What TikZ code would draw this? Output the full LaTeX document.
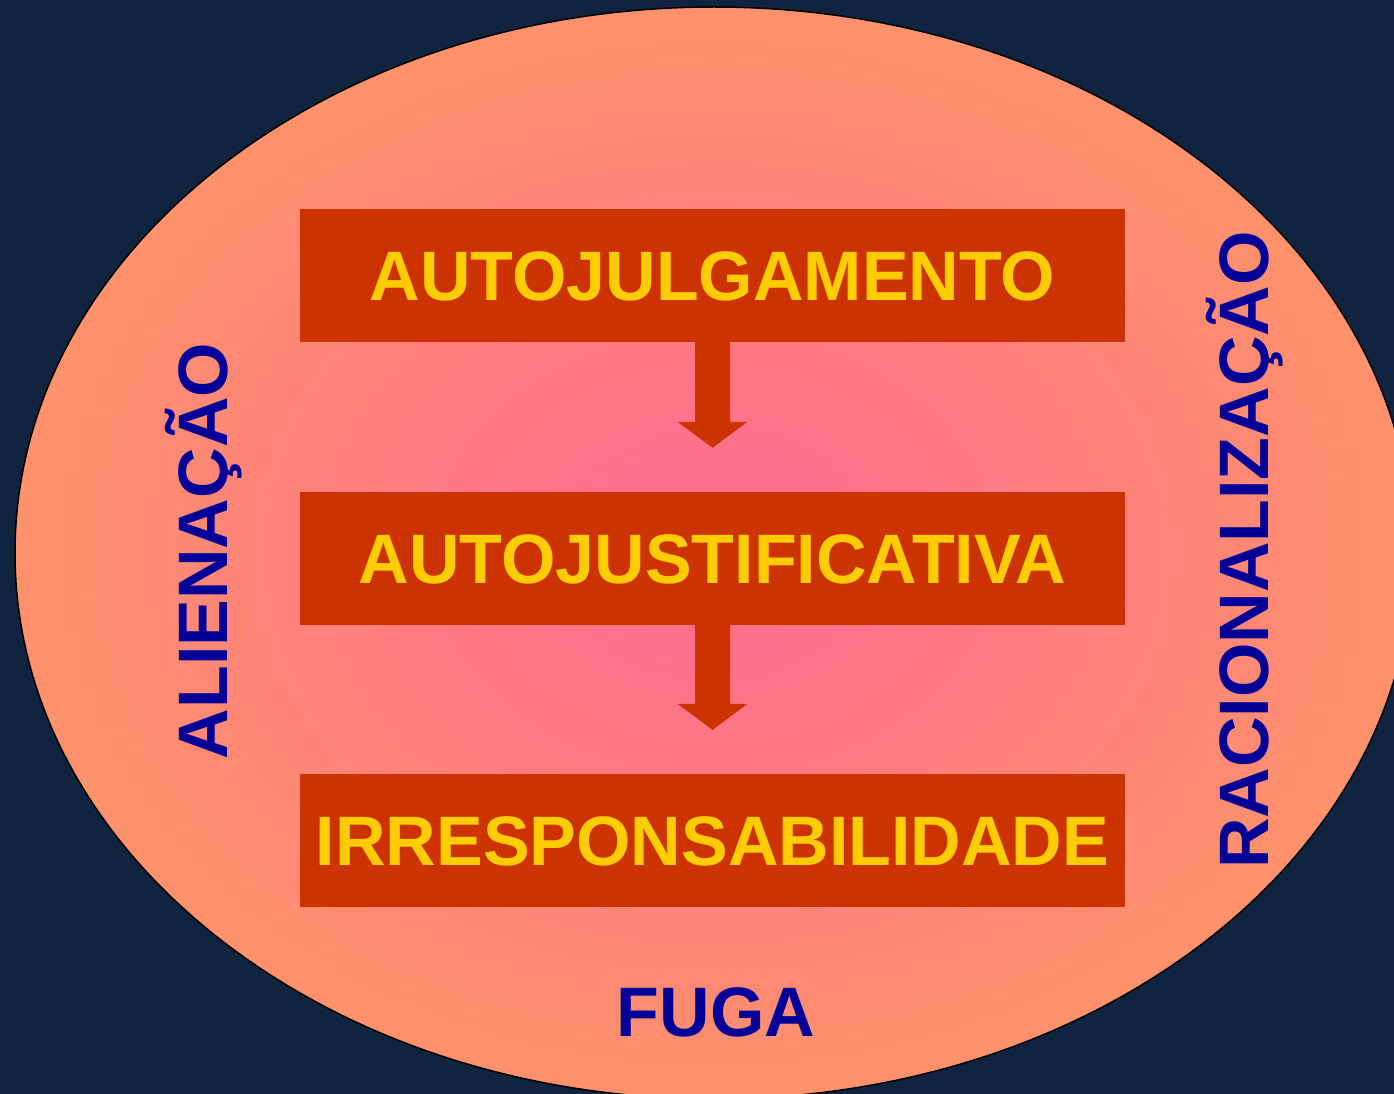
\documentclass[tikz,border=0pt]{standalone}
\usepackage{fontspec}
\setmainfont{Liberation Sans}
\usetikzlibrary{calc}
\definecolor{bg}{RGB}{17,36,63}
\definecolor{boxc}{RGB}{204,51,0}
\definecolor{txty}{RGB}{255,204,0}
\definecolor{txtb}{RGB}{0,0,153}
\pgfdeclareradialshading{ellshade}{\pgfpoint{0bp}{0bp}}{rgb(0bp)=(1,0.41,0.57); rgb(29bp)=(1,0.6,0.4); rgb(50bp)=(1,0.6,0.4)}
\begin{document}
\begin{tikzpicture}[x=1pt,y=-1pt,
  box/.style={fill=boxc, minimum width=825pt, minimum height=133pt, inner sep=0pt,
    text=txty, font=\bfseries\fontsize{70}{84}\selectfont, text height=50pt, text depth=0pt},
  side/.style={text=txtb, font=\bfseries\fontsize{70}{84}\selectfont, inner sep=0pt, anchor=base},
  blockarrow/.style={fill=boxc}]
\useasboundingbox (0,0) rectangle (1394,1094);
\fill[bg] (0,0) rectangle (1394,1094);
\shade[shading=ellshade, draw=black, line width=1.5pt] (714,553) ellipse [x radius=699, y radius=546];

\node[box] (b1) at (712.5,275.5) {AUTOJULGAMENTO};
\node[box] (b2) at (712.5,558.5) {AUTOJUSTIFICATIVA};
\node[box] (b3) at (712.5,840.5) {IRRESPONSABILIDADE};

\fill[blockarrow] ($(b1.south)+(-17.5,0)$) -- ($(b1.south)+(17.5,0)$) -- ($(b2.north)+(17.5,-70)$) -- ($(b2.north)+(35,-70)$) -- ($(b2.north)+(0,-44)$) -- ($(b2.north)+(-35,-70)$) -- ($(b2.north)+(-17.5,-70)$) -- cycle;
\fill[blockarrow] ($(b2.south)+(-17.5,0)$) -- ($(b2.south)+(17.5,0)$) -- ($(b3.north)+(17.5,-70)$) -- ($(b3.north)+(35,-70)$) -- ($(b3.north)+(0,-44)$) -- ($(b3.north)+(-35,-70)$) -- ($(b3.north)+(-17.5,-70)$) -- cycle;

\node[side, rotate=90] (al) at (227,551) {ALIENAÇÃO};
\node[side, rotate=90] (ra) at (1268,550) {RACIONALIZAÇÃO};
\node[side] (fu) at (716,1036) {FUGA};
\end{tikzpicture}
\end{document}
